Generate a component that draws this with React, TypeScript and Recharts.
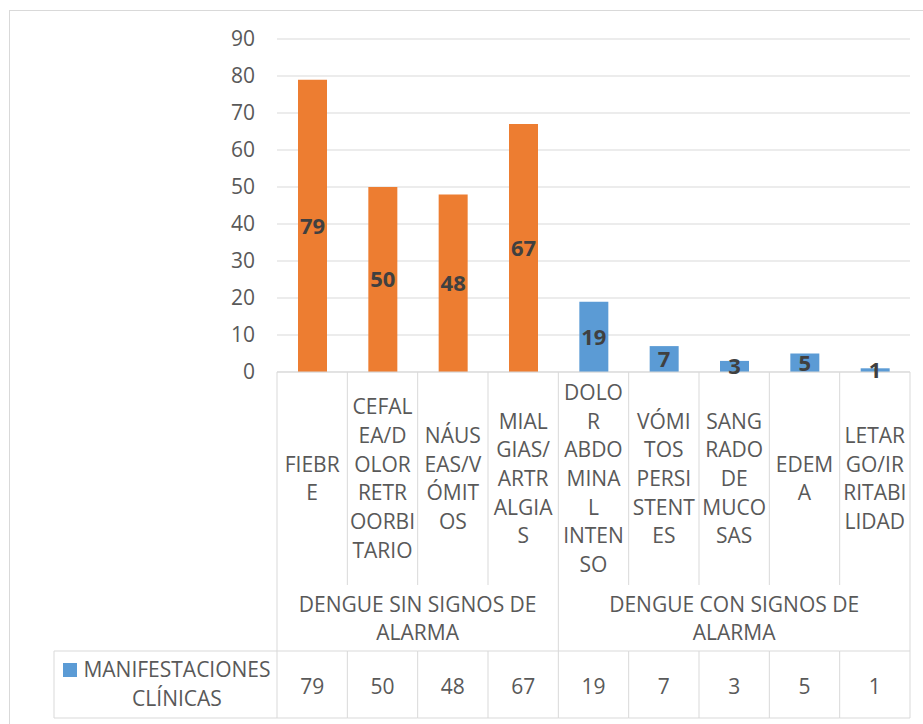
import React from 'react';
import { BarChart, Bar, XAxis, YAxis, CartesianGrid, Cell, LabelList } from 'recharts';

const categories = [
  'FIEBRE',
  'CEFALEA/DOLOR RETROORBITARIO',
  'NÁUSEAS/VÓMITOS',
  'MIALGIAS/ARTRALGIAS',
  'DOLOR ABDOMINAL INTENSO',
  'VÓMITOS PERSISTENTES',
  'SANGRADO DE MUCOSAS',
  'EDEMA',
  'LETARGO/IRRITABILIDAD',
];
const categoryLines = [
  ['FIEBR', 'E'],
  ['CEFAL', 'EA/D', 'OLOR', 'RETR', 'OORBI', 'TARIO'],
  ['NÁUS', 'EAS/V', 'ÓMIT', 'OS'],
  ['MIAL', 'GIAS/', 'ARTR', 'ALGIA', 'S'],
  ['DOLO', 'R', 'ABDO', 'MINA', 'L', 'INTEN', 'SO'],
  ['VÓMI', 'TOS', 'PERSI', 'STENT', 'ES'],
  ['SANG', 'RADO', 'DE', 'MUCO', 'SAS'],
  ['EDEM', 'A'],
  ['LETAR', 'GO/IR', 'RITABI', 'LIDAD'],
];
const groupLabels = [
  ['DENGUE SIN SIGNOS DE', 'ALARMA'],
  ['DENGUE CON SIGNOS DE', 'ALARMA'],
];
const groupOf = [0, 0, 0, 0, 1, 1, 1, 1, 1];
const values = [79, 50, 48, 67, 19, 7, 3, 5, 1];
const seriesNameLines = ['MANIFESTACIONES', 'CLÍNICAS'];
const yTicks = [0, 10, 20, 30, 40, 50, 60, 70, 80, 90];

const groupColors = ['#ED7D31', '#5B9BD5'];
const legendColor = '#5B9BD5';

const data = categories.map((name, i) => ({ name, value: values[i], group: groupOf[i] }));

const FONT = '"Open Sans", sans-serif';
const TEXT = '#595959';
const LINE = '#D9D9D9';
const FS = 21;
const LH = 28.7;

const PLOT_LEFT = 277;
const PLOT_RIGHT = 910;

function Lines({ lines, cx, cy }: { lines: string[]; cx: number; cy: number }) {
  const start = cy - ((lines.length - 1) * LH) / 2;
  return (
    <text textAnchor="middle" fill={TEXT} fontFamily={FONT} fontSize={FS}>
      {lines.map((l, k) => (
        <tspan key={k} x={cx} y={start + k * LH + 7.5}>
          {l}
        </tspan>
      ))}
    </text>
  );
}

function CategoryTick(props: any) {
  const { x, y, payload } = props;
  const i: number = props.index ?? payload.index;
  const n = categories.length;
  const colW = typeof props.width === 'number' && props.width > 0 ? props.width / n : (PLOT_RIGHT - PLOT_LEFT) / n;
  const left = x - colW / 2;
  const right = x + colW / 2;
  const catBottom = y + 213;
  const rowTop = y + 279;
  const rowBottom = y + 346;
  const isGroupEnd = i < n - 1 && groupOf[i] !== groupOf[i + 1];
  const isFirstOfGroup = i === 0 || groupOf[i - 1] !== groupOf[i];
  const groupSize = groupOf.filter((g) => g === groupOf[i]).length;
  const els: any[] = [];

  if (i === n - 1) {
    els.push(<line key="rb" x1={right} x2={right} y1={y} y2={rowBottom} stroke={LINE} />);
  } else {
    els.push(
      <line key="rb1" x1={right} x2={right} y1={y} y2={isGroupEnd ? rowTop : catBottom} stroke={LINE} />
    );
    els.push(<line key="rb2" x1={right} x2={right} y1={rowTop} y2={rowBottom} stroke={LINE} />);
  }
  const hLeft = i === 0 ? left - 223 : left;
  els.push(<line key="ht" x1={hLeft} x2={right} y1={rowTop} y2={rowTop} stroke={LINE} />);
  els.push(<line key="hb" x1={hLeft} x2={right} y1={rowBottom} y2={rowBottom} stroke={LINE} />);

  if (i === 0) {
    els.push(<line key="lb" x1={left} x2={left} y1={y} y2={rowBottom} stroke={LINE} />);
    els.push(<line key="lgl" x1={left - 223} x2={left - 223} y1={rowTop} y2={rowBottom} stroke={LINE} />);
    els.push(<rect key="lgm" x={left - 214} y={rowTop + 12} width={14} height={14} fill={legendColor} />);
    els.push(<Lines key="lgt" lines={seriesNameLines} cx={left - 100} cy={rowTop + 33} />);
  }

  if (isFirstOfGroup) {
    els.push(
      <Lines key="grp" lines={groupLabels[groupOf[i]]} cx={left + (groupSize * colW) / 2} cy={y + 246.5} />
    );
  }

  els.push(<Lines key="cat" lines={categoryLines[i]} cx={x} cy={y + 106.5} />);
  els.push(<Lines key="val" lines={[String(values[i])]} cx={x} cy={y + 314} />);

  return <g>{els}</g>;
}

export default function App() {
  return (
    <div style={{ position: 'absolute', left: 0, top: 0, width: 923, height: 724, overflow: 'hidden', background: '#fff' }}>
      <div
        style={{
          position: 'absolute',
          left: 9,
          top: 10,
          width: 940,
          height: 740,
          border: `1.5px solid ${LINE}`,
          boxSizing: 'border-box',
        }}
      />
      <div style={{ position: 'absolute', left: 0, top: 0 }}>
        <BarChart
          width={923}
          height={724}
          data={data}
          margin={{ top: 39, right: 13, bottom: 6, left: 0 }}
        >
          <CartesianGrid vertical={false} stroke={LINE} />
          <YAxis
            width={277}
            domain={[0, 90]}
            ticks={yTicks}
            axisLine={false}
            tickLine={false}
            tickSize={0}
            tickMargin={22}
            tick={{ fill: TEXT, fontFamily: FONT, fontSize: FS }}
            interval={0}
          />
          <XAxis
            dataKey="name"
            height={346}
            interval={0}
            axisLine={{ stroke: LINE }}
            tickLine={false}
            tickSize={0}
            tickMargin={0}
            tick={<CategoryTick />}
          />
          <Bar dataKey="value" barSize={29} isAnimationActive={false}>
            {data.map((d, i) => (
              <Cell key={i} fill={groupColors[d.group]} />
            ))}
            <LabelList
              dataKey="value"
              position="center"
              fill="#404040"
              fontFamily={FONT}
              fontSize={22}
              fontWeight="bold"
            />
          </Bar>
        </BarChart>
      </div>
    </div>
  );
}
